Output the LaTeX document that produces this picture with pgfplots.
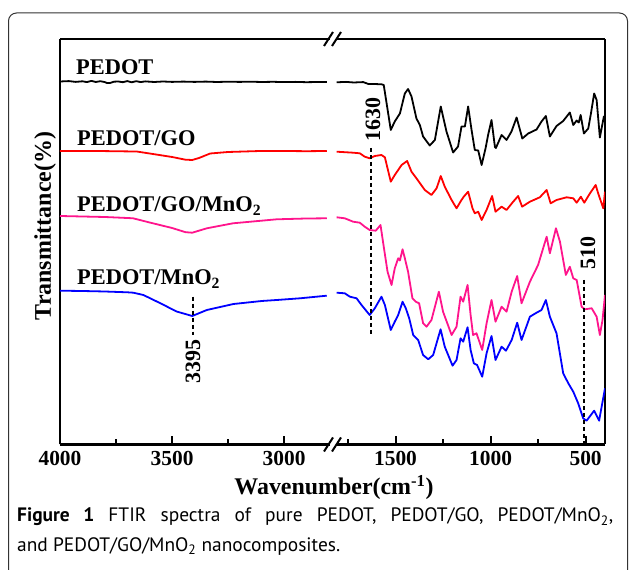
\documentclass[border=0pt]{standalone}
\usepackage{pgfplots}
\pgfplotsset{compat=1.18}
\usepackage{fontspec}
\setmainfont{Liberation Serif}
\newfontfamily\capfont{PT Sans}
\definecolor{pedotpink}{RGB}{255,20,140}

\newcommand\lbl{\fontsize{22.5}{26}\selectfont\bfseries}
\newcommand\axlbl{\fontsize{24}{28}\selectfont\bfseries}
\newcommand\tkl{\fontsize{21.5}{25}\selectfont\bfseries}
\newcommand\numl{\fontsize{22}{26}\selectfont\bfseries}

\pgfplotsset{
  ftir/.style={
    scale only axis, height=405.5bp, ymin=0, ymax=405.5,
    anchor=south west,
    x dir=reverse, axis x line*=box, xtick pos=left, ytick=\empty,
    tick align=inside, major tick length=8bp, minor tick length=5bp,
    axis line style={line width=2.4bp},
    every tick/.style={line width=2bp, black},
    xticklabel style={font=\tkl, yshift=-3bp},
    /pgf/number format/assume math mode=true,
    /pgf/number format/set thousands separator={},
    every axis plot/.append style={line width=1.8bp, line join=round, mark=none},
  },
}
\tikzset{dots/.style={black, line width=1.8bp, dash pattern=on 4bp off 3bp}}

\begin{document}
\begin{tikzpicture}
\useasboundingbox (0,0) rectangle (629bp,570bp);

% left part, 4000-2800
\begin{axis}[ftir, at={(60bp,125.5bp)}, width=269bp,
  xmin=2800, xmax=4000, axis y line*=left,
  xtick={3000,3500,4000}, minor xtick={3250,3750}]
\addplot[black] coordinates {
 (4000,363.0) (3960,363.4) (3930,362.6) (3900,363.2) (3880,362.4) (3860,363.6)
 (3840,362.5) (3820,363.3) (3800,362.4) (3790,361.4) (3775,361.6) (3760,362.8)
 (3740,363.0) (3720,362.3) (3700,363.4) (3680,362.2) (3660,363.3) (3640,362.4)
 (3620,363.1) (3580,362.5) (3540,363.0) (3500,362.6) (3450,362.9) (3400,362.6)
 (3350,362.9) (3300,362.5) (3250,362.8) (3200,362.6) (3150,362.8) (3100,362.5)
 (3050,362.7) (3000,362.4) (2950,362.6) (2900,362.3) (2850,362.5) (2810,362.4)
};
\addplot[red] coordinates {
 (4000,293.5) (3900,293.5) (3800,293.4) (3700,293.1) (3658,293.0) (3600,291.0)
 (3500,287.5) (3440,284.8) (3410,284.5) (3380,286.5) (3330,291.0) (3250,292.5)
 (3107,293.5) (3000,293.5) (2900,293.3) (2810,293.5)
};
\addplot[pedotpink] coordinates {
 (4000,228.5) (3900,228.0) (3800,227.5) (3700,226.5) (3674,226.2) (3600,222.0)
 (3500,216.5) (3440,212.3) (3410,211.8) (3345,216.2) (3228,221.2) (3033,225.2)
 (2900,226.0) (2810,226.2)
};
\addplot[blue] coordinates {
 (4000,153.8) (3900,153.5) (3800,153.0) (3700,152.2) (3673,151.8) (3628,149.5)
 (3550,141.0) (3480,133.0) (3410,128.5) (3345,134.5) (3226,140.5) (3100,143.5)
 (3033,144.5) (2929,146.2) (2810,148.8)
};
\draw[dots] (axis cs:3405,147.8) -- (axis cs:3405,109.5);
\end{axis}

% right part, 1850-400
\begin{axis}[ftir, at={(329bp,125.5bp)}, width=276bp,
  xmin=398, xmax=1850, axis y line*=right,
  xtick={500,1000,1500}, minor xtick={750,1250,1750}]
\addplot[black] coordinates {
 (1810,362.2) (1760,362.6) (1720,362.0) (1670,362.4) (1644,360.6) (1600,360.4)
 (1574,360.2) (1562,359.5) (1525,314.5) (1504,323) (1477,331) (1451,351)
 (1434,355.5) (1416,348) (1390,326) (1372,319.5) (1355,308) (1320,299)
 (1293,304.5) (1262,338) (1232,313) (1197,292) (1171,298) (1153,318)
 (1135,318) (1118,338) (1100,314.5) (1083,294.5) (1065,294) (1047,279.5)
 (1026,296.5) (1013,309.5) (995,324.5) (977,297.5) (972,296.5) (942,309.5)
 (916,304.5) (890,313) (863,327) (833,306) (802,311) (758,315) (732,323)
 (709,328.5) (688,308) (653,318.5) (618,323.5) (583,332) (565,319.5)
 (547,324) (536,322) (526,329.5) (509,311) (486,316) (472,331) (455,351)
 (442,344.5) (425,307) (404,328) (398,325)
};
\addplot[red] coordinates {
 (1810,292.8) (1723,291.8) (1688,291.2) (1662,287.8) (1636,286.2) (1609,288.5)
 (1574,289.5) (1556,287.2) (1525,262.8) (1504,269.5) (1468,279.5) (1439,283.5)
 (1416,272.8) (1390,266.2) (1346,254.5) (1311,249.5) (1284,256.2) (1262,268.5)
 (1241,257.8) (1205,244.5) (1179,236.2) (1153,244.5) (1141,247.8) (1118,252.8)
 (1095,236.2) (1083,231.2) (1065,232.8) (1047,224.5) (1021,234.5) (992,248.5)
 (974,232.8) (942,237.8) (916,234.5) (881,242.8) (855,248.5) (834,237.8)
 (793,242.8) (741,247.2) (705,254.5) (684,241.2) (653,244.5) (600,247.2)
 (565,246.2) (547,241.8) (525,247.8) (507,241.8) (477,251.2) (447,259.5)
 (434,251.2) (407,236.2) (398,252.8)
};
\addplot[pedotpink] coordinates {
 (1810,227.2) (1767,226.2) (1723,222.8) (1688,221.8) (1662,217.8) (1636,214.5)
 (1604,213.8) (1579,219.5) (1562,197.8) (1542,172.8) (1521,159.5) (1504,176.2)
 (1486,186.2) (1477,184) (1463,195.2) (1451,186.2) (1434,172.8) (1411,146.2)
 (1393,142.8) (1376,141.2) (1355,121.2) (1337,117.8) (1311,124.5) (1272,152.8)
 (1250,132.8) (1205,109.5) (1179,117.8) (1158,147.8) (1144,142.8) (1121,159.5)
 (1105,129.5) (1092,109.5) (1074,111.2) (1044,94.5) (1021,121.2) (995,144.5)
 (974,122.8) (942,137.8) (916,132.8) (889,152.8) (860,168.5) (837,141.2)
 (793,162.8) (750,179.5) (705,207.8) (688,191.2) (656,216.2) (635,202.8)
 (604,169.5) (583,177.8) (565,166.2) (547,164.5) (521,137.8) (504,135.2)
 (468,136.2) (442,127.8) (425,109.5) (411,124.5) (398,149.5)
};
\addplot[blue] coordinates {
 (1810,151.8) (1767,151.2) (1740,147.8) (1705,146.2) (1679,139.5) (1636,129.5)
 (1609,136.2) (1574,147.8) (1556,139.5) (1525,114.5) (1504,122.8) (1486,129.5)
 (1463,142.8) (1446,136.2) (1428,126.2) (1407,109.5) (1381,104.5) (1355,89.5)
 (1328,85.2) (1302,89.5) (1263,115.2) (1241,97.8) (1200,78.8) (1179,84.5)
 (1158,106.2) (1144,102.8) (1121,117.2) (1105,94.5) (1088,81.2) (1071,79.5)
 (1044,67.8) (1021,91.2) (995,108.5) (974,84.5) (942,97.8) (919,93.8)
 (889,104.5) (860,121.8) (837,104.5) (793,127.8) (758,131.8) (732,134.5)
 (709,144.5) (688,127.8) (653,111.2) (618,71.2) (591,61.2) (565,52.8)
 (539,41.2) (513,26.2) (495,23.8) (455,33.8) (429,23.8) (398,56.2)
};
\draw[dots] (axis cs:1630,296.5) -- (axis cs:1630,109.5);
\draw[dots] (axis cs:510,164.5) -- (axis cs:510,0);
\end{axis}

% axis break marks
\foreach \yy in {125.5,531} {
  \fill[white] (329.5bp,\yy bp-2bp) rectangle (335.5bp,\yy bp+2bp);
  \draw[line width=2bp] (324bp,\yy bp-7bp) -- (333bp,\yy bp+7bp);
  \draw[line width=2bp] (332bp,\yy bp-7bp) -- (341bp,\yy bp+7bp);
}

% series names
\node[anchor=base west, inner sep=0] at (76bp,495bp) {\lbl PEDOT};
\node[anchor=base west, inner sep=0] at (77bp,424bp) {\lbl PEDOT/GO};
\node[anchor=base west, inner sep=0] at (77bp,358bp) {\lbl PEDOT/GO/MnO\textsubscript{2}};
\node[anchor=base west, inner sep=0] at (77bp,285bp) {\lbl PEDOT/MnO\textsubscript{2}};

% peak numbers
\node[anchor=base west, inner sep=0, rotate=90] at (380bp,428bp) {\numl 1630};
\node[anchor=base west, inner sep=0, rotate=90] at (595bp,300bp) {\numl 510};
\node[anchor=base west, inner sep=0, rotate=90] at (200bp,186bp) {\numl 3395};

% axis titles
\node[rotate=90, inner sep=0] at (45bp,344bp) {\axlbl Transmittance(\%)};
\node[anchor=base, inner sep=0] at (334bp,75bp) {\axlbl Wavenumber(cm\textsuperscript{-1})};

% caption (justified first line) and open frame
\node[anchor=base west, inner sep=0] at (17bp,48bp)
  {\capfont\fontsize{19.5}{23}\selectfont\makebox[596bp][s]{\textbf{Figure 1} FTIR spectra of pure PEDOT, PEDOT/GO, PEDOT/MnO\textsubscript{2},}};
\node[anchor=base west, inner sep=0] at (17bp,19bp)
  {\capfont\fontsize{19.5}{23}\selectfont and PEDOT/GO/MnO\textsubscript{2} nanocomposites.};
\draw[rounded corners=8bp, line width=1bp, black!80]
  (8.5bp,0bp) -- (8.5bp,557bp) -- (627.5bp,557bp) -- (627.5bp,0bp);
\end{tikzpicture}
\end{document}
